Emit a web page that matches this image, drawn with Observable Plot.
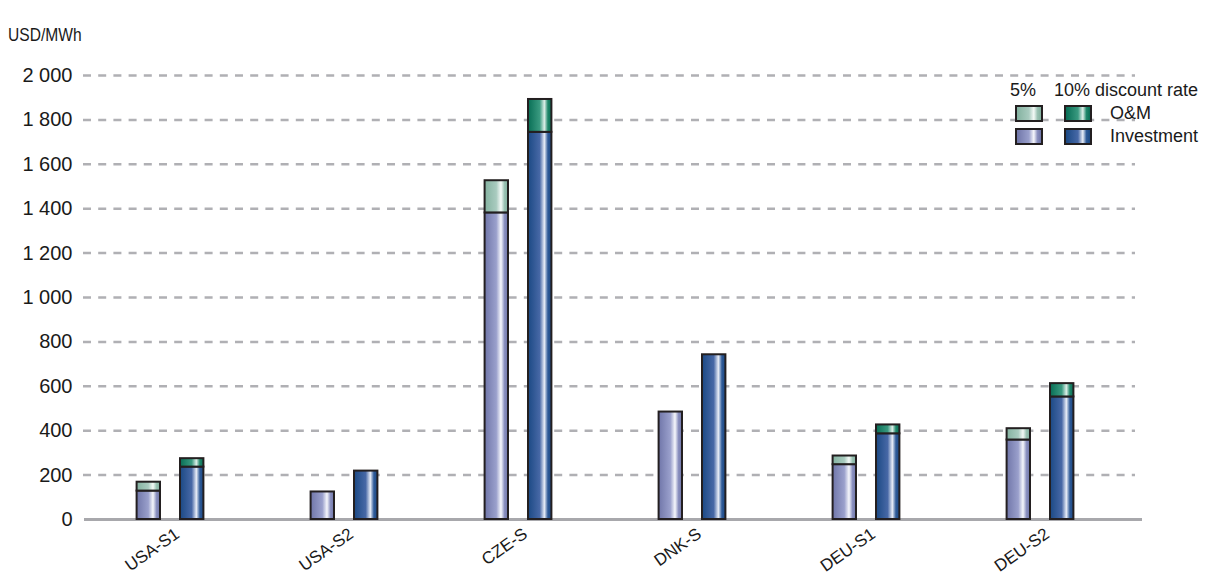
<!DOCTYPE html>
<html>
<head>
<meta charset="utf-8">
<script src="https://cdn.jsdelivr.net/npm/d3@7"></script>
<script src="https://cdn.jsdelivr.net/npm/@observablehq/plot@0.6"></script>
<style>
  body { margin: 0; background: #fff; }
  #wrap { position: relative; width: 1215px; height: 577px; overflow: hidden; }
  #wrap svg { position: absolute; left: 0; top: 0; }
  .ovl { position: absolute; font-family: "Liberation Sans", sans-serif; color: #1a1a1a; white-space: nowrap; transform: scaleX(0.82); transform-origin: 0 0; line-height: 1; }
  .lg { position: absolute; font-family: "Liberation Sans", sans-serif; font-size: 18px; color: #1a1a1a; white-space: nowrap; line-height: 1; }
  .sw { position: absolute; width: 24px; height: 13px; border: 2px solid #231f20; }
</style>
</head>
<body>
<div id="wrap"></div>
<script>
// ---- data ----
const countries = ["USA-S1", "USA-S2", "CZE-S", "DNK-S", "DEU-S1", "DEU-S2"];
const invest5  = [128, 124, 1381, 484, 247, 358];
const om5      = [40, 0, 145, 0, 39, 51];
const invest10 = [236, 218, 1744, 742, 386, 552];
const om10     = [38, 0, 148, 0, 40, 60];
const yTicks   = [0, 200, 400, 600, 800, 1000, 1200, 1400, 1600, 1800, 2000];
const unitLabel = "USD/MWh";
const legendRates = ["5%", "10% discount rate"];
const legendParts = ["O&M", "Investment"];

const rows5  = countries.map((c, i) => ({country: c, invest: invest5[i],  om: om5[i]}));
const rows10 = countries.map((c, i) => ({country: c, invest: invest10[i], om: om10[i]}));

const fmt = d => d3.format(",")(d).replace(/,/g, " ");
const barStroke = {stroke: "#231f20", strokeWidth: 2};
const in5  = {insetLeft: 53.6, insetRight: 97};
const in10 = {insetLeft: 97, insetRight: 53.6};

const svg = Plot.plot({
  width: 1215,
  height: 577,
  marginLeft: 84,
  marginRight: 80,
  marginTop: 75,
  marginBottom: 58,
  style: {fontFamily: "Liberation Sans, sans-serif", color: "#1a1a1a", background: "transparent"},
  x: {domain: countries, range: [82.6, 1127.8], padding: 0, axis: null},
  y: {domain: [0, 2000], axis: null},
  marks: [
    Plot.ruleY(yTicks.filter(d => d > 0), {stroke: "#b0b0b4", strokeWidth: 2.5, strokeDasharray: "8,7.2", insetLeft: -1}),
    Plot.ruleY([0], {stroke: "#a8a8ac", strokeWidth: 3, insetRight: -7}),
    Plot.axisY(yTicks, {tickSize: 0, tickPadding: 12, tickFormat: fmt, fontSize: 20, label: null}),
    Plot.barY(rows5,  {x: "country", y: "invest", fill: "url(#gInv5)", ...barStroke, ...in5}),
    Plot.barY(rows5.filter(d => d.om > 0),  {x: "country", y1: "invest", y2: d => d.invest + d.om, fill: "url(#gOm5)", ...barStroke, ...in5}),
    Plot.barY(rows10, {x: "country", y: "invest", fill: "url(#gInv10)", ...barStroke, ...in10}),
    Plot.barY(rows10.filter(d => d.om > 0), {x: "country", y1: "invest", y2: d => d.invest + d.om, fill: "url(#gOm10)", ...barStroke, ...in10}),
    Plot.text(countries, {x: d => d, frameAnchor: "bottom", rotate: -35, textAnchor: "end", dx: 10, dy: 17, fontSize: 17,
      fontFamily: "Liberation Sans, sans-serif", fill: "#1a1a1a"})
  ]
});

// gradients (cylinder-like shading)
const grads = {
  gInv5:  ["#7076a9", "#9aa0cc", "#f6f7fc", "#8a90bf", "#6f75a8"],
  gOm5:   ["#84b2a0", "#a9cbbf", "#f4faf7", "#9ac2b3", "#83b09f"],
  gInv10: ["#1b4984", "#4768a6", "#e8edf7", "#2e5a98", "#1b4984"],
  gOm10:  ["#086e55", "#3a9a80", "#dcefe8", "#1f876a", "#086e55"]
};
const offs = [0, 0.5, 0.7, 0.85, 1];
const defs = d3.select(svg).insert("defs", ":first-child");
for (const [id, cols] of Object.entries(grads)) {
  const g = defs.append("linearGradient").attr("id", id).attr("x1", 0).attr("x2", 1).attr("y1", 0).attr("y2", 0);
  cols.forEach((c, i) => g.append("stop").attr("offset", offs[i]).attr("stop-color", c));
}

const wrap = document.getElementById("wrap");
wrap.appendChild(svg);

// unit label
const u = document.createElement("div");
u.className = "ovl";
u.style.cssText = "left:8px;top:25px;font-size:19px;";
u.textContent = unitLabel;
wrap.appendChild(u);

// legend
function addText(txt, left, top) {
  const d = document.createElement("div");
  d.className = "lg"; d.textContent = txt;
  d.style.left = left + "px"; d.style.top = top + "px";
  wrap.appendChild(d);
}
function css(cols) {
  return `linear-gradient(to right, ${cols.map((c, i) => `${c} ${offs[i] * 100}%`).join(", ")})`;
}
function addSw(cols, left, top) {
  const d = document.createElement("div");
  d.className = "sw"; d.style.left = left + "px"; d.style.top = top + "px";
  d.style.background = css(cols);
  wrap.appendChild(d);
}
addText(legendRates[0], 1010, 81);
addText(legendRates[1], 1054, 81);
addSw(grads.gOm5, 1015, 105);
addSw(grads.gOm10, 1064, 105);
addSw(grads.gInv5, 1015, 128);
addSw(grads.gInv10, 1064, 128);
addText(legendParts[0], 1110, 104);
addText(legendParts[1], 1110, 127);
</script>
</body>
</html>
